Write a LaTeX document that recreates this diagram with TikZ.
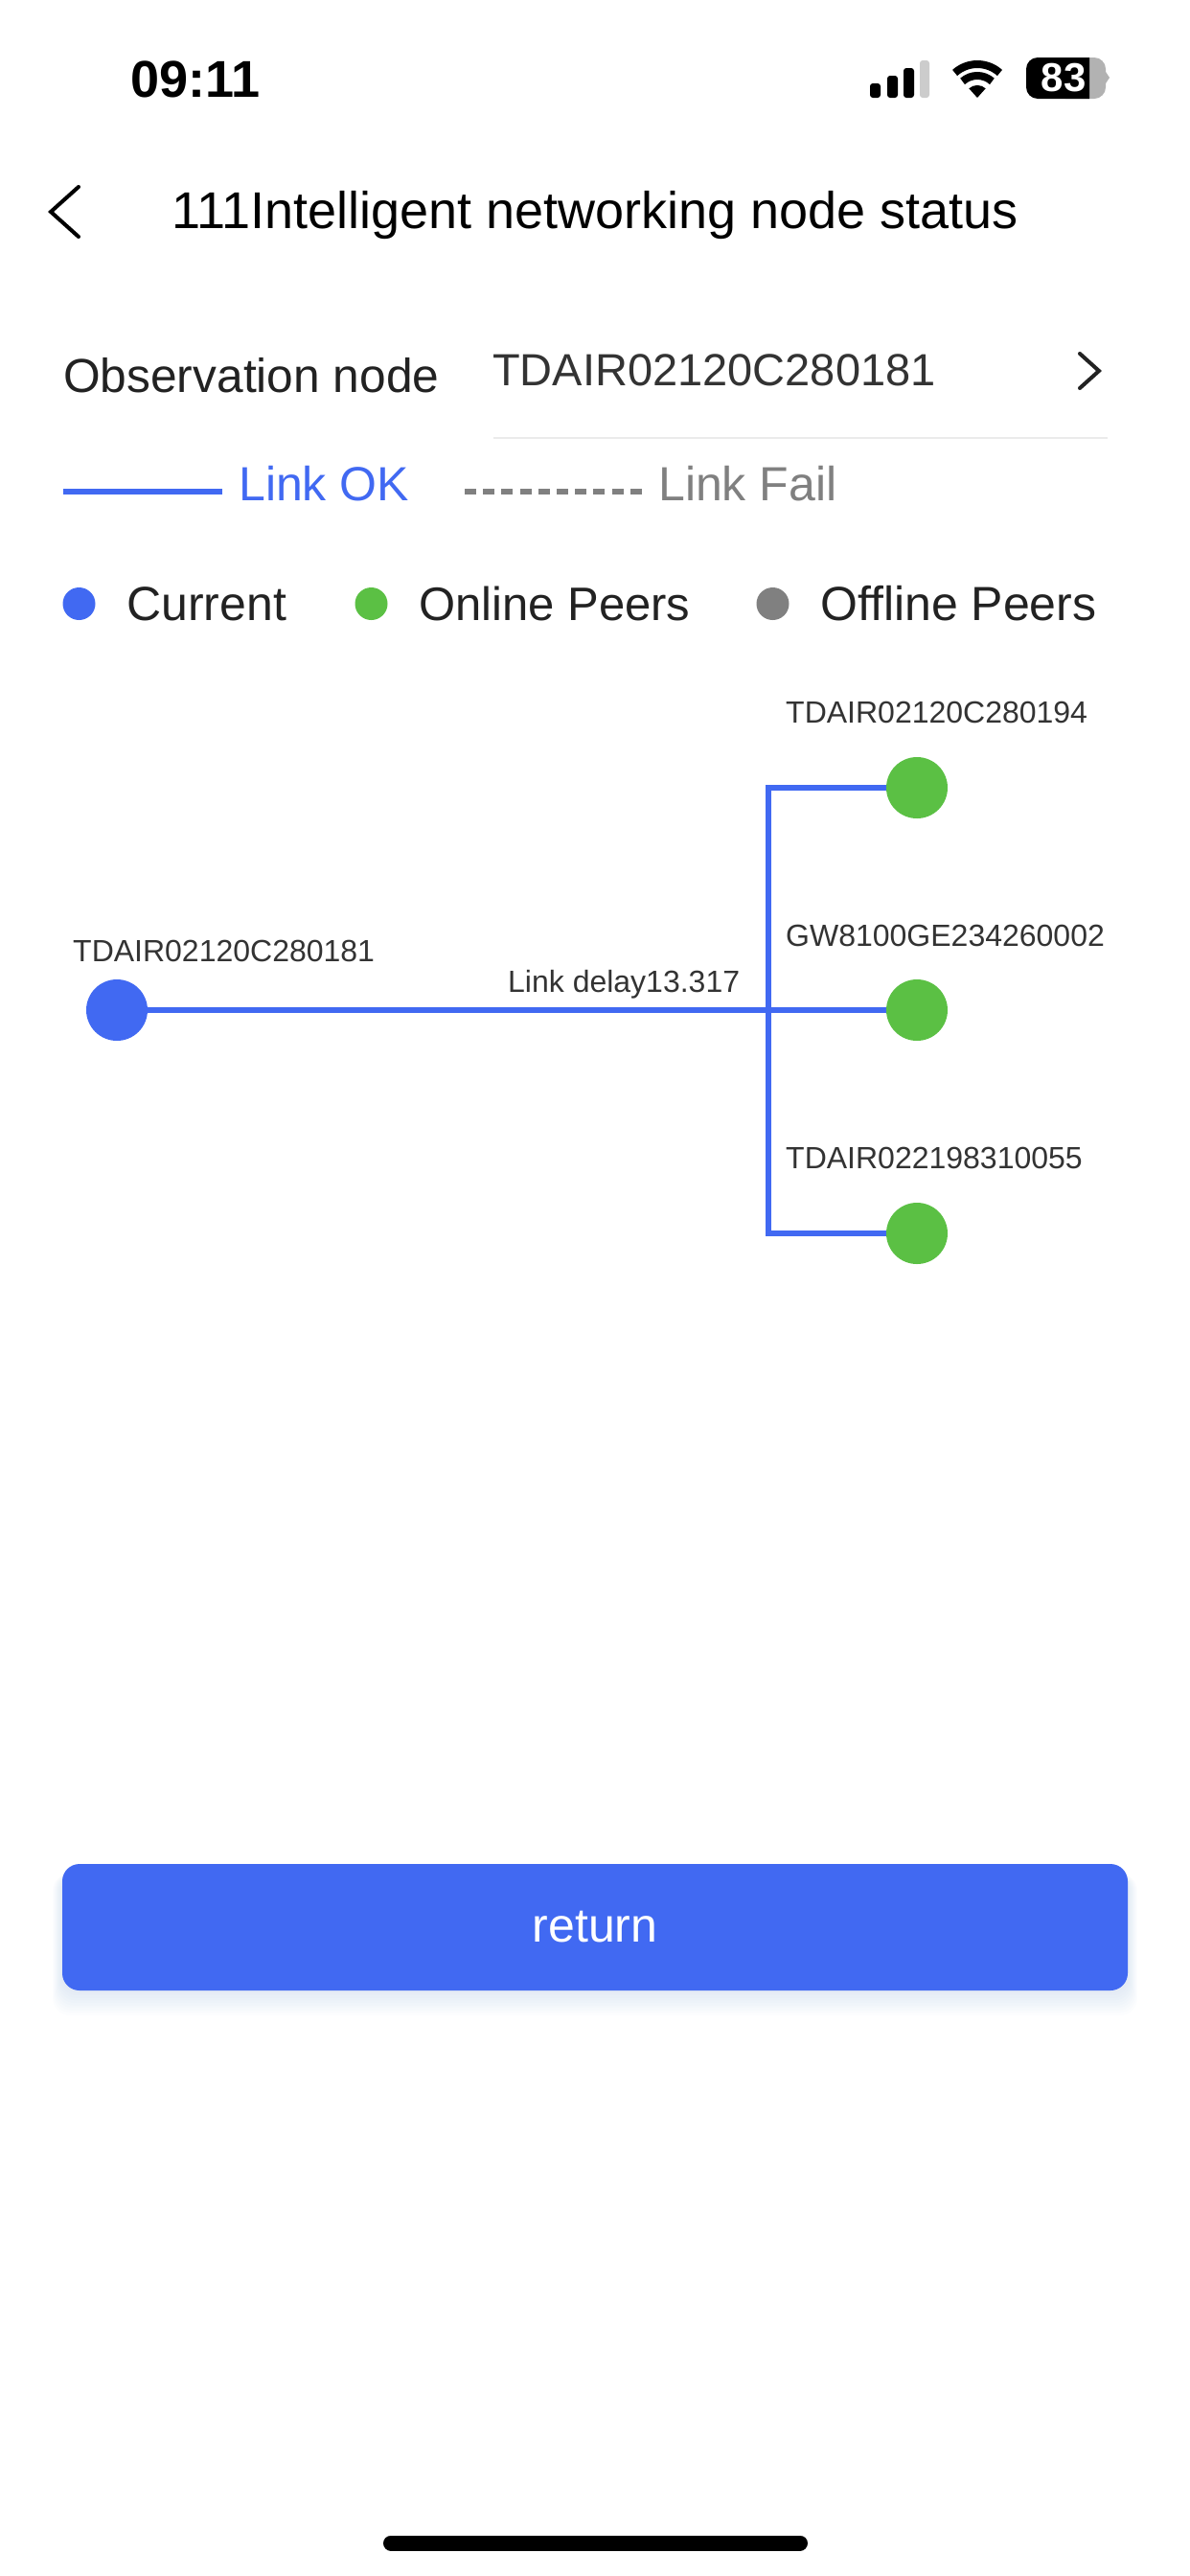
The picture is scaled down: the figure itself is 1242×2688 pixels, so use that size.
\documentclass[tikz,border=0pt]{standalone}
\usepackage{fontspec}
\setmainfont{Liberation Sans}
\definecolor{linkblue}{HTML}{4169F2}
\definecolor{peergreen}{HTML}{5BC044}
\definecolor{failgray}{HTML}{808080}
\definecolor{inkdark}{HTML}{222222}
\definecolor{inklabel}{HTML}{333333}
\newcommand{\fsz}[1]{\fontsize{#1}{#1}\selectfont}
\tikzset{
	txt/.style={anchor=base west,inner sep=0pt,text=inkdark,font=\fsz{50}},
	lbl/.style={anchor=base west,inner sep=0pt,text=inklabel,font=\fsz{32}},
	dot/.style={circle,inner sep=0pt,minimum size=#1},
	link/.style={linkblue,line width=6.5pt},
	chev/.style={line width=4pt,line cap=round,line join=miter},
}

\begin{document}
\begin{tikzpicture}[x=1pt,y=-1pt]
	\useasboundingbox (0,0) rectangle (1242,2688);
	\fill[white] (0,0) rectangle (1242,2688);
	
	%status bar
	\node[txt,text=black,font=\fsz{54}\bfseries] (clock) at (136,101) {09:11};
	\foreach \x/\t in {908/87,926/79,943/71}
	\fill[black,rounded corners=3pt] (\x,\t) rectangle (\x+11,102);
	\fill[black!20,rounded corners=3pt] (960,63) rectangle (970,102);
	\fill (1020,102) -- (1011.3,92.3) arc[start angle=132,end angle=48,radius=13pt] -- cycle;
	\draw[line width=8pt] (1004.6,84.9) arc[start angle=132,end angle=48,radius=23pt];
	\draw[line width=8pt] (996.6,76) arc[start angle=132,end angle=48,radius=35pt];
	\fill[black!30,rounded corners=12pt] (1100,60) rectangle (1154,103);
	\fill[black!30] (1154,75) -- (1158,81) -- (1154,87) -- cycle;
	\begin{scope}
	\clip (1071,55) rectangle (1137,108);
	\fill[black,rounded corners=12pt] (1071,60) rectangle (1160,103);
	\end{scope}
	\node[inner sep=0pt,text=white,font=\fsz{42}\bfseries] (batt) at (1110,81) {83};
	
	%title row
	\draw[chev] (82,195) -- (53,221) -- (82,247);
	\node[txt,text=black,font=\fsz{54}] (title) at (179,238) {111Intelligent networking node status};
	
	%observation row
	\node[txt,font=\fsz{49.7}] (obs) at (66,409.5) {Observation node};
	\node[txt,text=inklabel,font=\fsz{47}] (obsval) at (514,402) {TDAIR02120C280181};
	\draw[chev,inkdark] (1127,369) -- (1147,387) -- (1127,405);
	\draw[black!8,line width=2pt] (515,457) -- (1156,457);
	
	%line legend
	\draw[link] (66,513) -- (232,513);
	\node[txt,text=linkblue] (linkok) at (249,522.5) {Link OK};
	\draw[failgray,line width=6pt,dash pattern=on 12pt off 7.2pt] (485,513) -- (671,513);
	\node[txt,text=failgray] (linkfail) at (687,522.5) {Link Fail};
	
	%dot legend
	\node[dot=34pt,fill=linkblue] (kcur) at (82.5,630) {};
	\node[dot=34pt,fill=peergreen] (kon) at (387.5,630) {};
	\node[dot=34pt,fill=failgray] (koff) at (806.5,630) {};
	\node[txt] (tcur) at (132,647.5) {Current};
	\node[txt,font=\fsz{49}] (ton) at (437,647.5) {Online Peers};
	\node[txt] (toff) at (856,647.5) {Offline Peers};
	
	%graph
	\node[dot=64pt,fill=peergreen] (peera) at (957,822) {};
	\node[dot=64pt,fill=peergreen] (peerb) at (957,1054) {};
	\node[dot=64pt,fill=peergreen] (peerc) at (957,1287) {};
	\node[dot=64pt,fill=linkblue] (cur) at (122,1054) {};
	\coordinate (bus) at (802,1054);
	\draw[link] (cur) -- (peerb);
	\draw[link] (peera) -| (bus) |- (peerc);
	
	\node[lbl] (tcurn) at (76,1003) {TDAIR02120C280181};
	\node[lbl] (ta) at (820,754) {TDAIR02120C280194};
	\node[lbl] (tb) at (820,987) {GW8100GE234260002};
	\node[lbl] (tc) at (820,1219) {TDAIR022198310055};
	\node[lbl] (delay) at (530,1035) {Link delay13.317};
	
	%return button
	\foreach \i in {1,...,10}
	\fill[linkblue,opacity=.012,rounded corners=18pt] (65-\i,1955) rectangle (1177+\i,2077+2.6*\i);
	\node[fill=linkblue,rounded corners=18pt,inner sep=0pt,minimum width=1112pt,minimum height=132pt,text=white,font=\fsz{50}] (ret) at (621,2011) {return};
	
	%home bar
	\draw[black,line width=16pt,line cap=round] (408,2653.5) -- (835,2653.5);
\end{tikzpicture}
\end{document}
